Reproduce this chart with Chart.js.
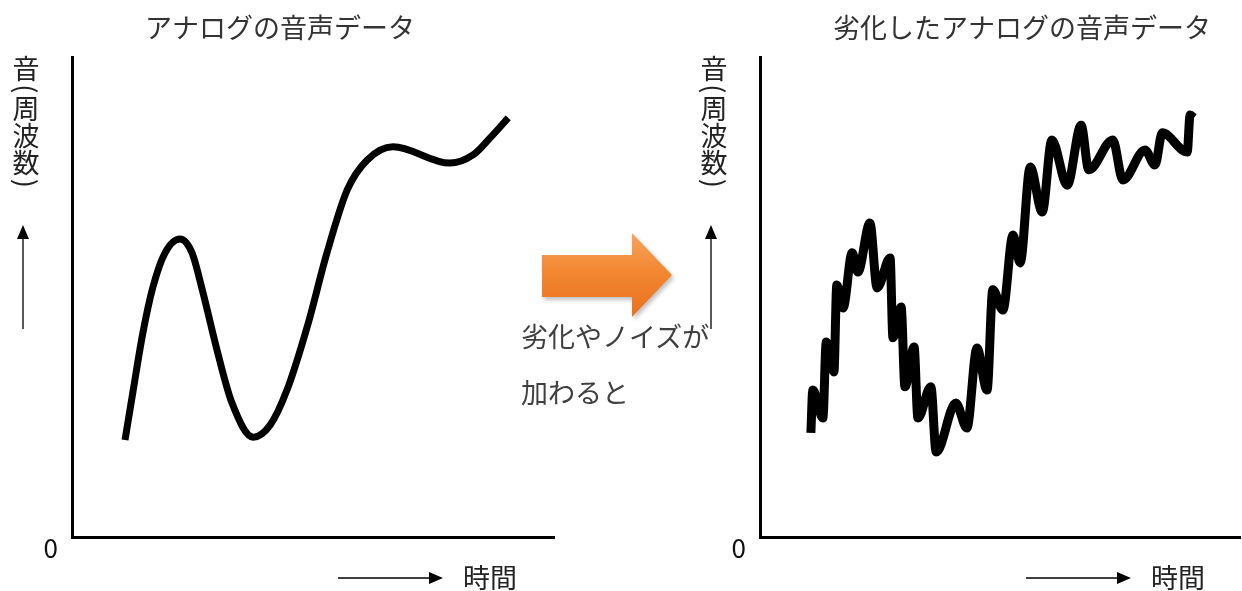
<!DOCTYPE html>
<html>
<head>
<meta charset="utf-8">
<script src="https://cdn.jsdelivr.net/npm/chart.js@4.4.0/dist/chart.umd.min.js"></script>
<style>
  body { margin: 0; width: 1242px; height: 591px; background: #fff; position: relative; overflow: hidden;
         font-family: "Noto Sans CJK JP", sans-serif; }
  canvas { position: absolute; top: 0; }
  #c1 { left: 0; }
  #c2 { left: 620px; }
  #arrowWrap { position: absolute; left: 542px; top: 233px; width: 130px; height: 84px;
               filter: drop-shadow(2px 3px 2px rgba(0,0,0,0.25)); }
  #arrow { width: 100%; height: 100%;
           background: linear-gradient(#f9a35c, #f2852f 50%, #e9711f);
           clip-path: polygon(0 26.2%, 69.2% 26.2%, 69.2% 0, 100% 50%, 69.2% 100%, 69.2% 76.2%, 0 76.2%); }
  .note { position: absolute; left: 521px; font-size: 27px; color: #404040; line-height: 1; white-space: nowrap; }
</style>
</head>
<body>
<canvas id="c1" width="620" height="591"></canvas>
<canvas id="c2" width="622" height="591"></canvas>
<div id="arrowWrap"><div id="arrow"></div></div>
<div class="note" style="top:322px">劣化やノイズが</div>
<div class="note" style="top:378px">加わると</div>
<script>
// original analog signal (time, frequency) in 0-100 units
var timeA = [11.0, 12.7, 14.7, 16.8, 19.3, 22.4, 24.9, 27.2, 30.1, 33.2, 37.6, 41.1, 44.6, 48.8, 52.9, 57.1, 61.2, 66.6, 78.4, 83.2, 86.7, 90.5];
var freqA = [20.2, 30.6, 42.5, 52.1, 59.2, 62.1, 59.2, 50.8, 38.9, 27.9, 20.8, 23.3, 30.6, 43.8, 59.2, 72.3, 78.5, 81.3, 77.9, 79.6, 83.1, 87.3];

// degraded signal with noise
var timeB = [10.6, 11.0, 13.1, 13.8, 15.4, 16.0, 17.3, 19.2, 20.4, 22.9, 24.4, 27.1, 27.7, 29.4, 30.2, 32.1, 32.9, 35.6, 36.7, 40.8, 43.1, 45.2, 47.3, 48.5, 50.6, 52.7, 54.2, 56.3, 58.8, 60.8, 64.0, 66.9, 68.5, 73.5, 75.6, 80.2, 82.3, 83.8, 89.0, 89.6, 90.4];
var freqB = [21.7, 30.6, 24.8, 40.6, 34.4, 52.5, 47.7, 59.2, 55.2, 65.4, 51.9, 58.1, 41.5, 47.9, 31.3, 39.6, 24.8, 31.3, 17.7, 27.9, 22.7, 39.4, 30.6, 51.5, 47.3, 62.9, 57.1, 77.1, 67.7, 82.7, 73.3, 85.8, 76.5, 82.7, 74.4, 80.6, 77.5, 84.2, 80.2, 87.9, 87.3];

var yTicks = [0];
var titleA = "アナログの音声データ";
var titleB = "劣化したアナログの音声データ";
var yLabelChars = ["音", "(", "周", "波", "数", ")"];
var xLabel = "時間";

var TXT = '"Noto Sans CJK JP", sans-serif';

// titles, axis captions and little arrows, placed from the chart area
var decor = {
  id: "decor",
  afterDraw: function (chart, args, o) {
    var ctx = chart.ctx, L = chart.chartArea.left;
    ctx.save();
    ctx.fillStyle = "#333";
    ctx.font = "27px " + TXT;
    ctx.textBaseline = "middle";
    ctx.textAlign = "left";
    ctx.fillText(o.title, L + 73, 28);
    ctx.fillStyle = "#222";
    ctx.fillText(xLabel, L + 391, 578);

    // vertical y caption
    var y = 55, cx = L - 46;
    ctx.textAlign = "center";
    yLabelChars.forEach(function (ch) {
      var paren = ch == "(" || ch == ")";
      var adv = paren ? 13.5 : 27;
      var cy = y + adv / 2;
      if (paren) {
        ctx.save();
        ctx.translate(cx, cy);
        ctx.rotate(Math.PI / 2);
        ctx.fillText(ch, 0, 0);
        ctx.restore();
      } else {
        ctx.fillText(ch, cx, cy);
      }
      y += adv;
    });

    // up arrow
    ctx.strokeStyle = "#000";
    ctx.fillStyle = "#000";
    ctx.lineWidth = 1.3;
    var ax = L - 49;
    ctx.beginPath(); ctx.moveTo(ax, 329); ctx.lineTo(ax, 238); ctx.stroke();
    ctx.beginPath(); ctx.moveTo(ax, 225); ctx.lineTo(ax - 6, 239); ctx.lineTo(ax + 6, 239); ctx.closePath(); ctx.fill();

    // right arrow
    ctx.beginPath(); ctx.moveTo(L + 266, 578); ctx.lineTo(L + 358, 578); ctx.stroke();
    ctx.beginPath(); ctx.moveTo(L + 371, 578); ctx.lineTo(L + 357, 572); ctx.lineTo(L + 357, 584); ctx.closePath(); ctx.fill();
    ctx.restore();
  }
};

function makeChart(id, xs, ys, lw, title, pad) {
  var pts = xs.map(function (x, i) { return { x: x, y: ys[i] }; });
  return new Chart(document.getElementById(id), {
    type: "line",
    data: {
      datasets: [{
        data: pts,
        borderColor: "#000",
        borderWidth: lw,
        pointRadius: 0,
        fill: false,
        cubicInterpolationMode: "monotone",
        borderCapStyle: "butt",
        borderJoinStyle: "round"
      }]
    },
    options: {
      responsive: false,
      animation: false,
      devicePixelRatio: 1,
      layout: { padding: pad },
      plugins: {
        legend: { display: false },
        tooltip: { enabled: false },
        decor: { title: title }
      },
      scales: {
        x: {
          type: "linear", min: 0, max: 100,
          grid: { display: false, drawTicks: false },
          border: { display: true, width: 3, color: "#000" },
          ticks: { display: false },
          afterFit: function (s) { s.height = 0; }
        },
        y: {
          type: "linear", min: 0, max: 100,
          grid: { display: false, drawTicks: false },
          border: { display: true, width: 3, color: "#000" },
          afterBuildTicks: function (s) { s.ticks = yTicks.map(function (v) { return { value: v }; }); },
          ticks: {
            color: "#111",
            font: { family: TXT, size: 26 },
            padding: 14,
            labelOffset: 11,
            callback: function (v) { return String(v); }
          },
          // fixed width so the "0" label has room and the axis sits where wanted
          afterFit: function (s) { s.width = 40; }
        }
      }
    },
    plugins: [decor]
  });
}

makeChart("c1", timeA, freqA, 7, titleA, { left: 32, right: 66, top: 57, bottom: 54 });
makeChart("c2", timeB, freqB, 9, titleB, { left: 100, right: 2, top: 57, bottom: 54 });
</script>
</body>
</html>
